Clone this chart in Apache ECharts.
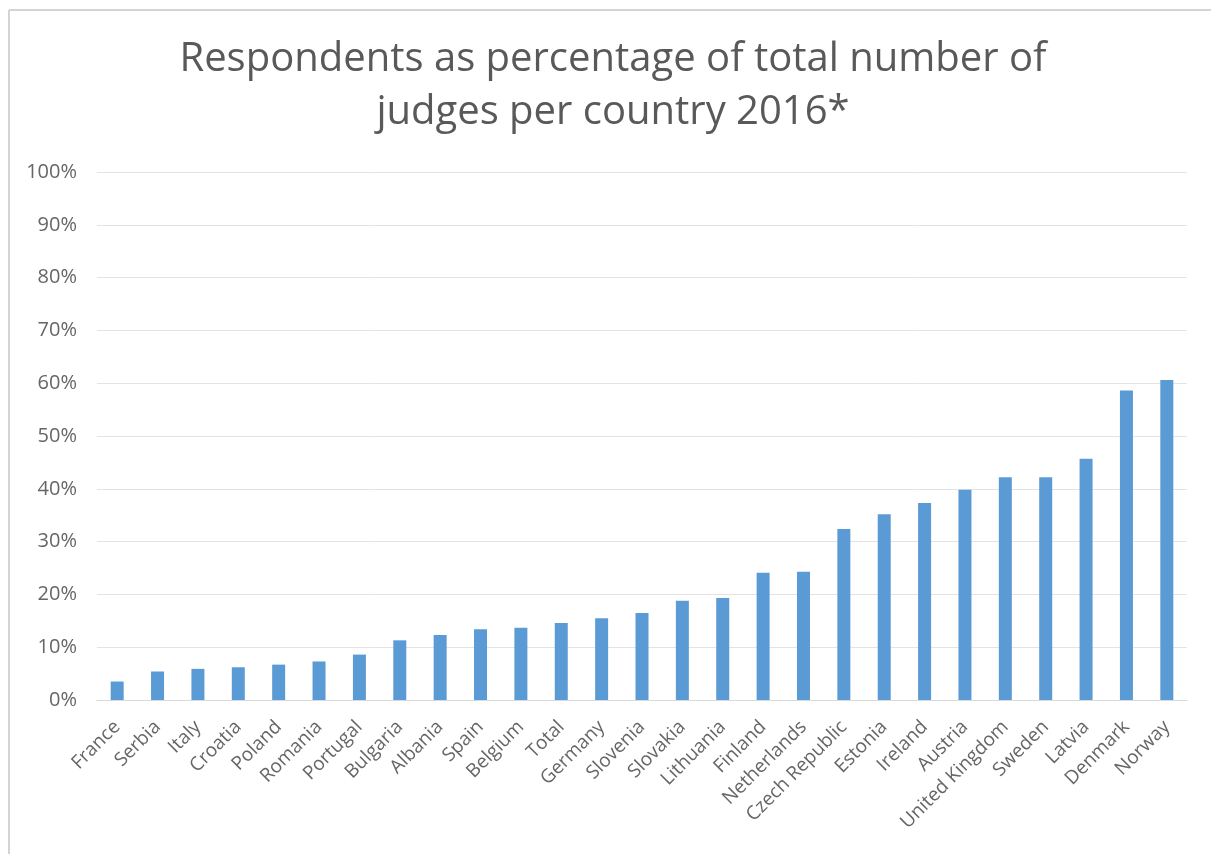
<!DOCTYPE html>
<html>
<head>
<meta charset="utf-8">
<script src="https://cdn.jsdelivr.net/npm/echarts@6/dist/echarts.min.js"></script>
<style>
html,body{margin:0;padding:0;background:#fff;}
#chart{width:1211px;height:854px;}
</style>
</head>
<body>
<div id="chart"></div>
<script>
const titleLines = ["Respondents as percentage of total number of", "judges per country 2016*"];
const countries = ["France","Serbia","Italy","Croatia","Poland","Romania","Portugal","Bulgaria","Albania","Spain","Belgium","Total","Germany","Slovenia","Slovakia","Lithuania","Finland","Netherlands","Czech Republic","Estonia","Ireland","Austria","United Kingdom","Sweden","Latvia","Denmark","Norway"];
const percentages = [3.5,5.4,5.9,6.2,6.7,7.3,8.6,11.3,12.3,13.4,13.7,14.6,15.5,16.5,18.8,19.3,24.1,24.3,32.4,35.2,37.3,39.8,42.2,42.2,45.7,58.6,60.6];

const titleStyle = {
  fontFamily: 'Open Sans',
  fontWeight: 'normal',
  fontSize: 40,
  color: '#595959'
};

const chart = echarts.init(document.getElementById('chart'));
chart.setOption({
  backgroundColor: '#ffffff',
  animation: false,
  title: [
    {text: titleLines[0], left: 608, textAlign: 'center', top: 35, textStyle: titleStyle},
    {text: titleLines[1], left: 608, textAlign: 'center', top: 88, textStyle: titleStyle}
  ],
  graphic: [
    {type:'line', shape:{x1:9,y1:10,x2:1211,y2:10}, style:{stroke:'#d4d4d4', lineWidth:2}},
    {type:'line', shape:{x1:9,y1:10,x2:9,y2:854}, style:{stroke:'#d4d4d4', lineWidth:2}}
  ],
  grid: {left: 97, right: 24, top: 172, bottom: 154},
  xAxis: {
    type: 'category',
    data: countries,
    axisLine: {lineStyle: {color: '#d9d9d9'}},
    axisTick: {show: false},
    axisLabel: {
      rotate: 45,
      interval: 0,
      color: '#666666',
      fontFamily: 'Open Sans',
      fontSize: 19,
      margin: 24
    }
  },
  yAxis: {
    type: 'value',
    min: 0,
    max: 100,
    interval: 10,
    axisLine: {show: false},
    axisTick: {show: false},
    splitLine: {lineStyle: {color: '#e3e3e3'}},
    axisLabel: {
      formatter: '{value}%',
      color: '#666666',
      fontFamily: 'Open Sans',
      fontSize: 20,
      margin: 20
    }
  },
  series: [{
    type: 'bar',
    data: percentages,
    barWidth: 13,
    itemStyle: {color: '#5b9bd5'}
  }]
});
</script>
</body>
</html>
